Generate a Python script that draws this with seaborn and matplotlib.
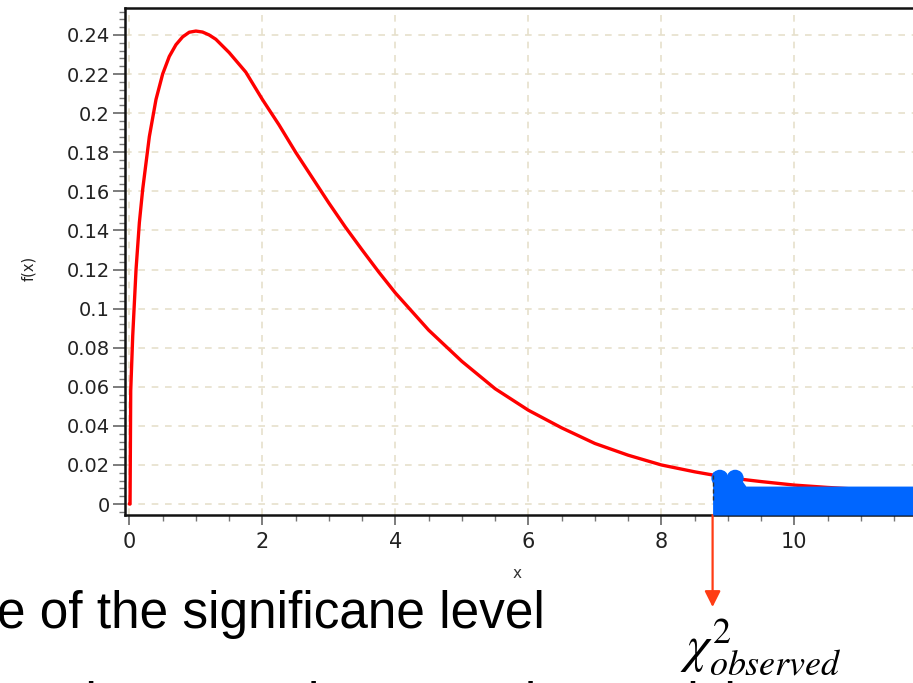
import numpy as np
import pandas as pd
import matplotlib
matplotlib.use("Agg")
import matplotlib.pyplot as plt
from matplotlib.ticker import MultipleLocator
import seaborn as sns

# Chi-square density curve (df = 3)
x_vals = [0.0, 0.01, 0.02, 0.05, 0.1, 0.15, 0.2, 0.3, 0.4, 0.5, 0.6, 0.7, 0.8,
          0.9, 1.0, 1.1, 1.2, 1.3, 1.5, 1.75, 2.0, 2.25, 2.5, 2.75, 3.0, 3.25,
          3.5, 3.75, 4.0, 4.5, 5.0, 5.5, 6.0, 6.5, 7.0, 7.5, 8.0, 8.5, 9.0,
          9.5, 10.0, 10.5, 11.0, 12.0]
density = [0.0, 0.0, 0.058, 0.086, 0.120, 0.144, 0.161, 0.188, 0.207, 0.220,
           0.229, 0.235, 0.239, 0.2414, 0.242, 0.2415, 0.240, 0.2378, 0.231,
           0.221, 0.207, 0.194, 0.180, 0.167, 0.154, 0.1416, 0.130, 0.1187,
           0.108, 0.089, 0.073, 0.059, 0.048, 0.039, 0.031, 0.025, 0.020,
           0.0165, 0.0135, 0.0115, 0.0097, 0.0085, 0.0075, 0.006]

# Shaded rejection tail beyond the observed statistic
chi_observed = 8.77
tail_x = [8.77, 8.95, 9.0, 9.2, 9.27, 12.5]
tail_top = [0.0165, 0.0145, 0.0145, 0.0125, 0.0092, 0.0092]
bump_x = [8.88, 9.11]
bump_y = [0.0132, 0.0132]

x_ticks = [0, 2, 4, 6, 8, 10]
y_ticks = [0, 0.02, 0.04, 0.06, 0.08, 0.1, 0.12, 0.14, 0.16, 0.18, 0.2, 0.22, 0.24]
y_tick_labels = ["0", "0.02", "0.04", "0.06", "0.08", "0.1", "0.12", "0.14",
                 "0.16", "0.18", "0.2", "0.22", "0.24"]

sns.set_theme(style="white")
plt.rcParams["font.family"] = ["DejaVu Sans"]
plt.rcParams["mathtext.fontset"] = "stix"

W, H = 913, 683
fig = plt.figure(figsize=(W / 100, H / 100), dpi=100)
fig.patch.set_facecolor("white")

# axes box in pixels: left 125, right at figure edge, top 8, bottom 515
ax = fig.add_axes([125 / W, 1 - 515 / H, (W + 2 - 125) / W, (515 - 8) / H])
ax.set_facecolor("white")

x_left = -0.066
x_right = x_left + (W + 2 - 125) / 66.5
y_bottom = -0.0056
y_top = 0.2538
ax.set_xlim(x_left, x_right)
ax.set_ylim(y_bottom, y_top)

grid_color = "#e6e0cc"
ax.set_xticks(x_ticks)
ax.set_yticks(y_ticks)
ax.set_yticklabels(y_tick_labels)
ax.xaxis.set_minor_locator(MultipleLocator(0.5))
ax.yaxis.set_minor_locator(MultipleLocator(0.004))
ax.grid(True, which="major", color=grid_color, linestyle=(0, (4, 4)), linewidth=1.2)

df = pd.DataFrame({"x": x_vals, "f": density})
sns.lineplot(data=df, x="x", y="f", ax=ax, color="#ff0000", linewidth=2.4,
             estimator=None, sort=False, zorder=3)

tail = pd.DataFrame({"x": tail_x, "top": tail_top})
ax.fill_between(tail["x"], y_bottom, tail["top"], color="#0066ff", linewidth=0, zorder=4)
sns.scatterplot(x=bump_x, y=bump_y, ax=ax, s=150, color="#0066ff", edgecolor="none",
                zorder=4, legend=False)
ax.vlines(chi_observed, 0.002, 0.0158, colors="#333333", linestyles=(0, (3, 2)),
          linewidth=1.0, zorder=5)

ax.set_xlabel("")
ax.set_ylabel("")

for side in ["left", "bottom", "top"]:
    ax.spines[side].set_visible(True)
    ax.spines[side].set_color("#111111")
    ax.spines[side].set_linewidth(1.8)
ax.spines["right"].set_visible(False)

ax.tick_params(axis="y", which="major", direction="out", length=9, width=1.2,
               color="#666666", pad=2, labelsize=14, labelcolor="#222222", left=True)
ax.tick_params(axis="y", which="minor", direction="out", length=4.5, width=1.0,
               color="#777777", left=True)
ax.tick_params(axis="x", which="major", direction="out", length=7, width=1.2,
               color="#666666", pad=5, labelsize=15, labelcolor="#222222", bottom=True)
ax.tick_params(axis="x", which="minor", direction="out", length=4, width=1.0,
               color="#777777", bottom=True)

# axis titles
fig.text(517 / W, 1 - 573 / H, "x", fontsize=11, color="#333333", ha="center", va="center")
fig.text(29 / W, 1 - 268 / H, "f(x)", fontsize=10.5, color="#222222", rotation=90,
         ha="center", va="center")

# arrow pointing to the observed statistic
ax.annotate("", xy=(chi_observed, y_bottom - 92 / 1954), xytext=(chi_observed, y_bottom),
            xycoords="data", textcoords="data", annotation_clip=False,
            arrowprops=dict(arrowstyle="-|>", color="#ff3c14", lw=1.6,
                            mutation_scale=24, shrinkA=0, shrinkB=0))
fig.text(761 / W, 1 - 647 / H, r"$\chi^2_{observed}$", fontsize=37, color="black",
         ha="center", va="center")

# slide text below the chart
fig.text(-3 / W, 1 - 628 / H, "e of the significane level", fontsize=37,
         family=["Liberation Sans", "DejaVu Sans"], color="black", ha="left",
         va="baseline")
fig.text(-3 / W, 1 - 719 / H, "are lower, and we use the Decision", fontsize=37,
         family=["Liberation Sans", "DejaVu Sans"], color="black", ha="left",
         va="baseline")

fig.savefig("out.png", dpi=100, facecolor="white")
